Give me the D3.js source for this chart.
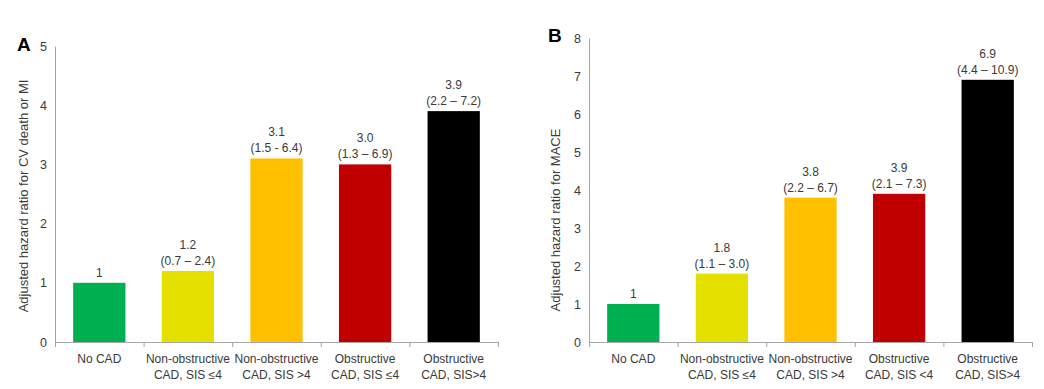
<!DOCTYPE html>
<html>
<head>
<meta charset="utf-8">
<script src="https://cdn.jsdelivr.net/npm/d3@7"></script>
<style>
  body { margin: 0; background: #fff; }
  svg text { font-family: "Liberation Sans", Arial, sans-serif; fill: #3a3a3a; }
</style>
</head>
<body>
<svg id="chart" width="1044" height="389"></svg>
<script>
// categories
const catLines = [
  ['No CAD'],
  ['Non-obstructive', 'CAD, SIS \u22644'],
  ['Non-obstructive', 'CAD, SIS >4'],
  ['Obstructive', 'CAD, SIS \u22644'],
  ['Obstructive', 'CAD, SIS>4']
];
const catLinesB = [
  ['No CAD'],
  ['Non-obstructive', 'CAD, SIS \u22644'],
  ['Non-obstructive', 'CAD, SIS >4'],
  ['Obstructive', 'CAD, SIS <4'],
  ['Obstructive', 'CAD, SIS>4']
];
const barColors = ['#00b050', '#e3e000', '#ffc000', '#c00000', '#000000'];

// panel A: CV death or MI
const hrA = [1, 1.2, 3.1, 3.0, 3.9];
const ciA = ['', '(0.7 \u2013 2.4)', '(1.5 - 6.4)', '(1.3 \u2013 6.9)', '(2.2 \u2013 7.2)'];
const labelA = ['1', '1.2', '3.1', '3.0', '3.9'];

// panel B: MACE
const hrB = [1, 1.8, 3.8, 3.9, 6.9];
const ciB = ['', '(1.1 \u2013 3.0)', '(2.2 \u2013 6.7)', '(2.1 \u2013 7.3)', '(4.4 \u2013 10.9)'];
const labelB = ['1', '1.8', '3.8', '3.9', '6.9'];

const svg = d3.select('#chart');

function drawPanel(p) {
  const g = svg.append('g');
  const idx = d3.range(p.values.length);

  const y = d3.scaleLinear().domain([0, p.yMax]).range([p.bottom, p.top]);
  const x = d3.scaleBand().domain(idx).range([p.left, p.right])
    .paddingInner(0.41).paddingOuter(0.205);
  const xb = d3.scaleLinear().domain([0, idx.length]).range([p.left, p.right]);

  // y axis
  const yAx = g.append('g').attr('transform', `translate(${p.left},0)`)
    .call(d3.axisLeft(y).ticks(p.yMax).tickSize(0).tickPadding(8).tickFormat(d3.format('d')));
  yAx.select('.domain').attr('stroke', '#a6a6a6');
  yAx.selectAll('text').style('font-size', '12.5px').attr('fill', '#3a3a3a');

  // bars
  g.append('g').selectAll('rect').data(idx).join('rect')
    .attr('x', i => x(i))
    .attr('width', x.bandwidth())
    .attr('y', i => y(p.values[i]))
    .attr('height', i => y(0) - y(p.values[i]))
    .attr('fill', i => barColors[i]);

  // x axis with boundary ticks
  const xAx = g.append('g').attr('transform', `translate(0,${p.bottom})`)
    .call(d3.axisBottom(xb).tickValues(d3.range(idx.length + 1)).tickSize(5).tickFormat(''));
  xAx.selectAll('path, line').attr('stroke', '#a6a6a6');

  // category labels
  const cl = g.append('g').selectAll('text').data(idx).join('text')
    .attr('x', i => x(i) + x.bandwidth() / 2)
    .attr('y', p.bottom + 21)
    .attr('text-anchor', 'middle')
    .style('font-size', '12px');
  cl.each(function (i) {
    d3.select(this).selectAll('tspan').data(p.cats[i]).join('tspan')
      .attr('x', x(i) + x.bandwidth() / 2)
      .attr('dy', (d, k) => k === 0 ? 0 : 16)
      .text(d => d);
  });

  // value labels
  const vl = g.append('g').selectAll('g').data(idx).join('g')
    .attr('transform', i => `translate(${x(i) + x.bandwidth() / 2},${y(p.values[i]) - 6})`);
  vl.append('text')
    .attr('text-anchor', 'middle')
    .attr('y', i => p.ci[i] ? -16 : 0)
    .style('font-size', '12px')
    .text(i => p.labels[i]);
  vl.append('text')
    .attr('text-anchor', 'middle')
    .style('font-size', '12px')
    .text(i => p.ci[i]);

  // y title
  g.append('text')
    .attr('transform', `translate(${p.titleX},${(p.top + p.bottom) / 2 + p.titleDy}) rotate(-90)`)
    .attr('text-anchor', 'middle')
    .style('font-size', '13px')
    .text(p.title);

  // panel letter
  g.append('text')
    .attr('x', p.letterX).attr('y', p.letterY)
    .style('font-size', '19px').style('font-weight', 'bold')
    .style('fill', '#000')
    .text(p.letter);
}

drawPanel({
  values: hrA, ci: ciA, labels: labelA, cats: catLines, yMax: 5,
  left: 55, right: 498, top: 46, bottom: 342,
  title: 'Adjusted hazard ratio for CV death or MI', titleX: 28, titleDy: 2,
  letter: 'A', letterX: 17, letterY: 51
});
drawPanel({
  values: hrB, ci: ciB, labels: labelB, cats: catLinesB, yMax: 8,
  left: 589, right: 1032, top: 38, bottom: 342,
  title: 'Adjusted hazard ratio for MACE', titleX: 560, titleDy: 30,
  letter: 'B', letterX: 548, letterY: 42
});
</script>
</body>
</html>
